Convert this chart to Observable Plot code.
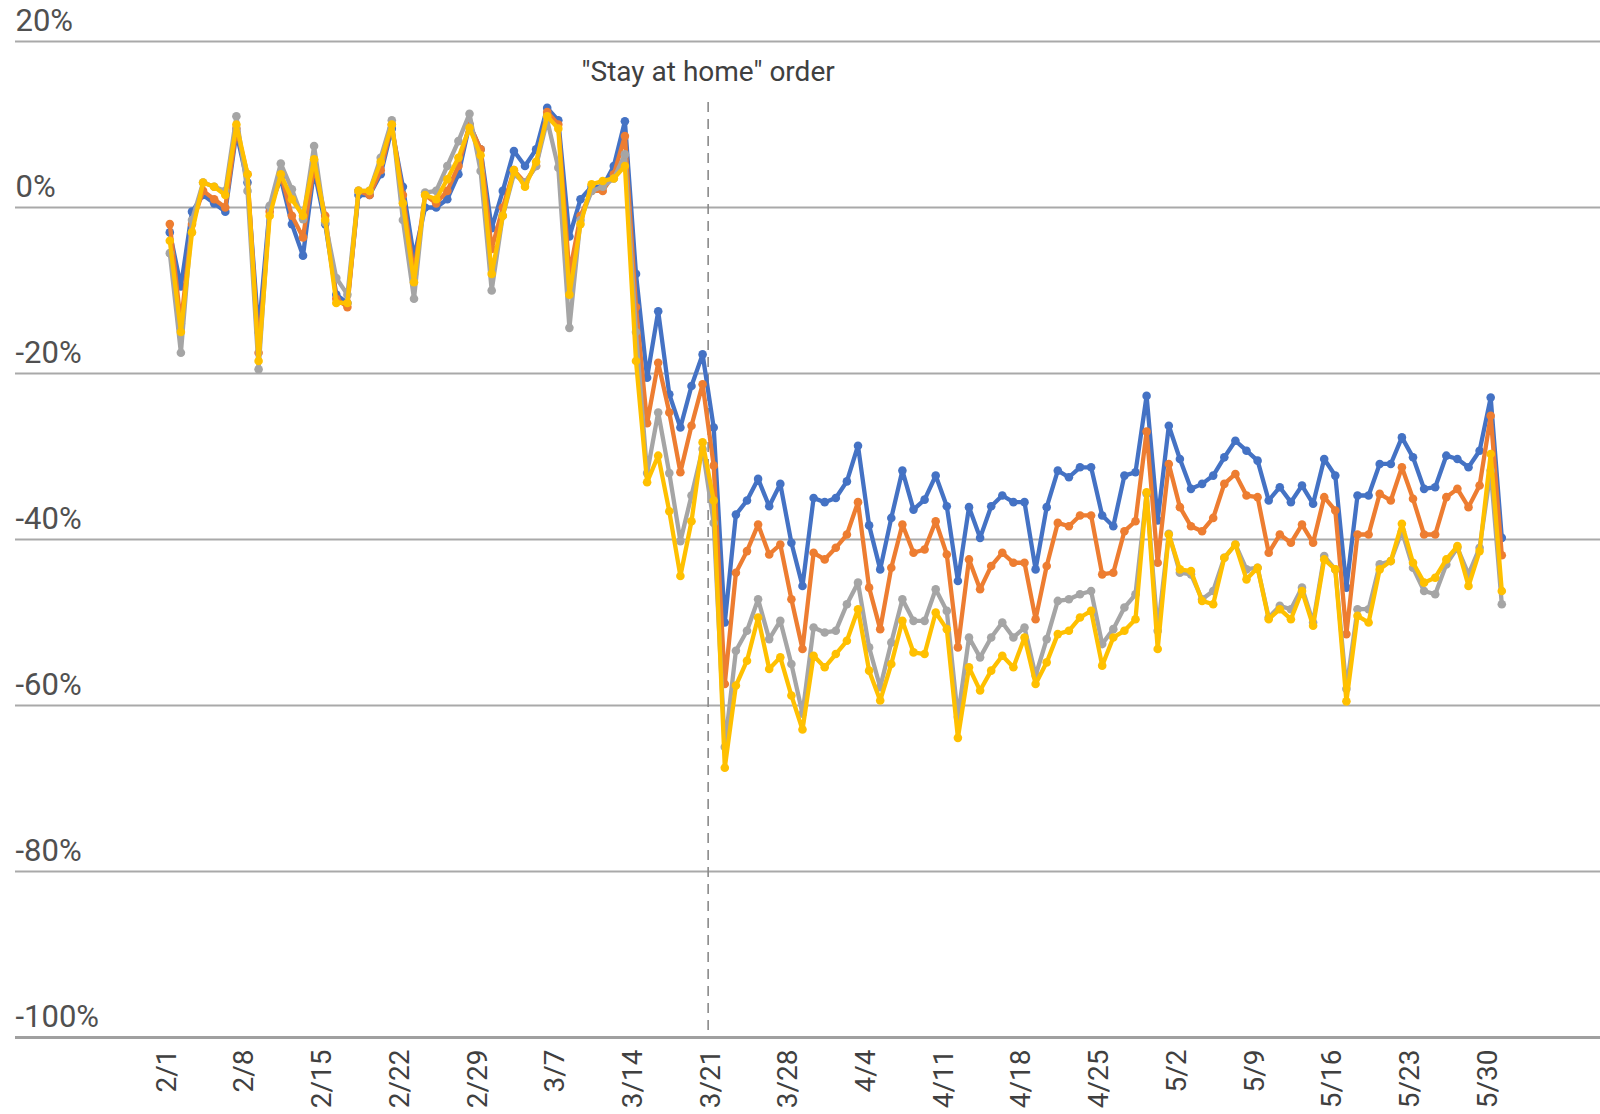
<!DOCTYPE html>
<html>
<head>
<meta charset="utf-8">
<script src="https://cdn.jsdelivr.net/npm/d3@7"></script>
<script src="https://cdn.jsdelivr.net/npm/@observablehq/plot@0.6"></script>
<style>
  html, body { margin: 0; padding: 0; background: #ffffff; }
  #chart svg { display: block; }
</style>
</head>
<body>
<div id="chart"></div>
<script>
// ---- Data (daily, 2/1/2020 .. 5/31/2020), percent change vs baseline ----
const startDate = "2020-02-01";
const seriesNames = ["Series 1", "Series 2", "Series 3", "Series 4"];
const seriesColors = ["#4472C4", "#ED7D31", "#A5A5A5", "#FFC000"];

const blueValues = [
  -3, -9.5, -0.5, 1.5, 0.5, -0.5, 9, 3, -15, 0,
  3.5, -2, -5.8, 4.5, -2, -10.5, -11.5, 1.5, 1.5, 4,
  9.5, 2.5, -6, 0, 0, 1, 4, 10, 7, -2.5,
  2, 6.8, 5, 7, 12, 10.5, -3.5, 1, 2.5, 2.5,
  5, 10.4, -8, -20.5, -12.5, -22.5, -26.5, -21.5, -17.7, -26.5,
  -50, -37, -35.3, -32.7, -36, -33.3, -40.4, -45.6, -35, -35.5,
  -35, -33, -28.7, -38.3, -43.6, -37.4, -31.7, -36.4, -35.2, -32.3,
  -36, -45, -36.1, -39.8, -36, -34.7, -35.5, -35.5, -43.6, -36.1,
  -31.7, -32.5, -31.3, -31.3, -37.1, -38.4, -32.3, -31.9, -22.7, -37.7,
  -26.3, -30.3, -33.9, -33.3, -32.3, -30.1, -28.1, -29.3, -30.5, -35.3,
  -33.7, -35.5, -33.5, -35.7, -30.3, -32.3, -45.8, -34.7, -34.7, -30.9,
  -30.9, -27.7, -30.1, -33.9, -33.7, -29.9, -30.3, -31.3, -29.3, -22.9,
  -39.8
];
const orangeValues = [
  -2, -14, -2, 2, 1, 0, 9.5, 4, -17.5, -0.5,
  4, -1, -3.6, 5, -1, -11, -12, 2, 1.5, 4.5,
  10, 1.5, -8, 1.5, 0.5, 2, 5, 10, 7, -5,
  0, 4.5, 3, 5, 11.5, 10, -8, -1, 2, 2,
  4, 8.6, -12, -26, -18.7, -24.7, -31.9, -26.3, -21.3, -31.1,
  -57.4, -44, -41.4, -38.2, -41.8, -40.6, -47.2, -53.2, -41.6, -42.4,
  -41, -39.4, -35.5, -45.8, -50.8, -43.4, -38.2, -41.6, -41.2, -37.8,
  -41.8, -53, -42.4, -46, -43.2, -41.6, -42.8, -42.8, -49.6, -43.2,
  -38, -38.4, -37.1, -37.1, -44.2, -44, -39, -37.8, -27, -42.8,
  -30.9, -36.1, -38.4, -39, -37.4, -33.3, -32.1, -34.7, -34.9, -41.6,
  -39.4, -40.4, -38.2, -40.4, -34.9, -36.5, -51.4, -39.4, -39.4, -34.5,
  -35.3, -31.3, -35.1, -39.4, -39.4, -34.9, -33.9, -36.1, -33.5, -25.1,
  -41.9
];
const grayValues = [
  -5.5, -17.5, -1.5, 3, 2.5, 2, 11, 2, -19.5, 0.2,
  5.3, 2.2, -1.4, 7.4, -1.8, -8.5, -10.5, 2, 2, 6,
  10.5, -1.5, -11, 1.8, 2, 5, 8, 11.3, 4.4, -10,
  -1, 4, 3, 5, 10.5, 4.8, -14.5, -1.5, 2, 2.5,
  3.5, 6.4, -15, -32, -24.7, -32, -40.2, -34.7, -29.1, -38,
  -65, -53.4, -51, -47.2, -52, -49.8, -55, -61, -50.6, -51.2,
  -51, -47.8, -45.2, -53, -57.8, -52.4, -47.2, -49.8, -49.8, -46,
  -48.6, -61.4, -51.8, -54.2, -51.8, -50, -51.8, -50.6, -56.4, -52,
  -47.4, -47.2, -46.6, -46.2, -52.6, -50.8, -48.2, -46.6, -34.5, -51,
  -39.3, -44, -44.2, -47.2, -46.2, -42.2, -40.6, -43.6, -43.4, -49.4,
  -48, -48.4, -45.8, -50, -42, -43.6, -58, -48.4, -48.4, -43,
  -42.6, -39, -43.4, -46.2, -46.6, -43, -41, -44.2, -41, -31.7,
  -47.8
];
const yellowValues = [
  -4, -15, -3, 3, 2.5, 1.5, 10, 4, -18.5, -1,
  4, 1, -1, 5.8, -1.5, -11.5, -11.5, 2, 2, 5.5,
  10, 0.5, -9, 1.5, 1, 3.4, 6, 9.6, 6.3, -8,
  -1, 4.5, 2.5, 5.5, 11, 9.5, -10.5, -2, 2.8, 3.2,
  3.5, 5, -18.5, -33.1, -29.9, -36.6, -44.4, -37.8, -28.3, -35.3,
  -67.5, -57.6, -54.6, -49.4, -55.6, -54.2, -58.8, -62.9, -54, -55.4,
  -53.8, -52.2, -48.4, -55.8, -59.4, -55, -49.8, -53.6, -53.8, -48.8,
  -50.8, -63.9, -55.4, -58.2, -55.8, -54, -55.4, -51.8, -57.4, -54.8,
  -51.4, -51, -49.4, -48.6, -55.2, -51.8, -51, -49.6, -34.3, -53.2,
  -39.4, -43.6, -43.8, -47.4, -47.8, -42.2, -40.6, -44.8, -43.4, -49.6,
  -48.4, -49.6, -46.2, -50.4, -42.4, -43.6, -59.5, -49.2, -50, -43.6,
  -42.6, -38.1, -42.8, -45.2, -44.6, -42.4, -40.8, -45.6, -41.4, -29.7,
  -46.2
];

const tickLabels = ["2/1", "2/8", "2/15", "2/22", "2/29", "3/7", "3/14", "3/21", "3/28",
                    "4/4", "4/11", "4/18", "4/25", "5/2", "5/9", "5/16", "5/23", "5/30"];
const yTickValues = [20, 0, -20, -40, -60, -80, -100];
const stayAtHome = { date: "2020-03-20T12:00:00Z", label: "\"Stay at home\" order" };

// ---- Build tables ----
const DAY = 864e5;
const t0 = new Date(startDate + "T00:00:00Z").getTime();
const dayIndex = (d) => (new Date(d).getTime() - t0) / DAY;

const allValues = [blueValues, orangeValues, grayValues, yellowValues];
const series = seriesNames.map((name, k) => ({
  name,
  color: seriesColors[k],
  rows: allValues[k].map((v, i) => ({ day: i, value: v, series: name }))
}));

const tickDays = tickLabels.map((_, i) => i * 7);
const stayDay = dayIndex(stayAtHome.date);

const W = 1600, H = 1114;
const marks = [
  // horizontal gridlines
  Plot.ruleY(yTickValues.filter(v => v !== -100), { stroke: "#a9a9a9", strokeWidth: 2 }),
  Plot.ruleY([-100], { stroke: "#a0a0a0", strokeWidth: 3 }),
  // y labels sitting on top of gridlines
  Plot.text(yTickValues, {
    y: d => d, frameAnchor: "left", text: d => d + "%",
    textAnchor: "start", lineAnchor: "top", dy: -33,
    fontSize: 31, fill: "#505050", fontFamily: "Roboto"
  }),
  // stay-at-home dashed line + label
  Plot.ruleX([stayDay], { insetTop: 61, stroke: "#8a8a8a", strokeWidth: 1.6, strokeDasharray: "10,7" }),
  Plot.text([stayAtHome.label], {
    x: stayDay, frameAnchor: "top", lineAnchor: "top", dy: 20,
    fontSize: 28, fill: "#404040", fontFamily: "Roboto", textAnchor: "middle"
  }),
  // x axis labels
  Plot.axisX({
    ticks: tickDays, tickFormat: d => tickLabels[Math.round(d / 7)],
    tickRotate: -90, tickSize: 0, tickPadding: 12, dx: -3,
    fontSize: 28, fill: "#404040", fontFamily: "Roboto", label: null
  })
];
for (const s of series) {
  marks.push(Plot.line(s.rows, { x: "day", y: "value", stroke: s.color, strokeWidth: 4.3, curve: "linear", strokeLinejoin: "round" }));
  marks.push(Plot.dot(s.rows, { x: "day", y: "value", fill: s.color, r: 4.3, stroke: "none" }));
}

const chart = Plot.plot({
  width: W, height: H,
  marginLeft: 15, marginRight: 0, marginTop: 41, marginBottom: 77,
  style: { fontFamily: "Roboto", background: "#ffffff", overflow: "visible" },
  x: { type: "linear", domain: [-(169.3 - 15) / 11.1, (1600 - 169.3) / 11.1], axis: null },
  y: { domain: [-100, 20], axis: null },
  marks
});
document.getElementById("chart").appendChild(chart);
</script>
</body>
</html>
